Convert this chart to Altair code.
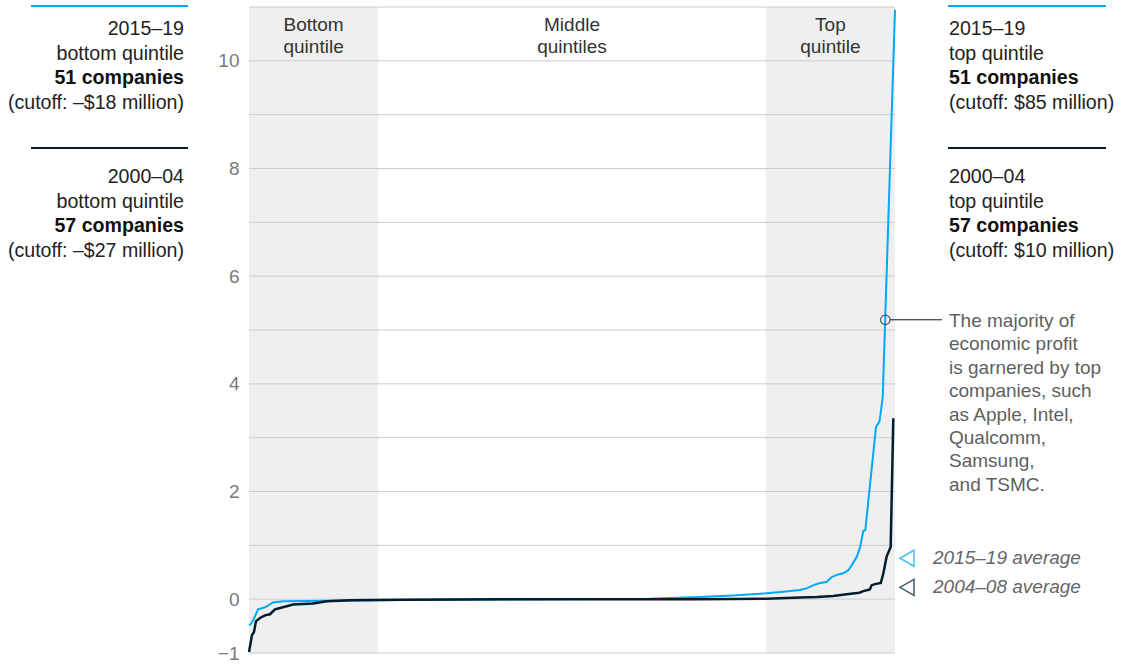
import altair as alt
import pandas as pd

# Economic profit per company, ranked, in $ billions (x = percentile rank of company)
blue_pct = [0, 0.3, 0.8, 1.4, 2.5, 3.7, 5.3, 12.5, 20, 31, 46.6, 62, 69.8, 74.9, 80.1,
            82.7, 85.3, 86.3, 87.4, 88.4, 89.4, 90.2, 91.2, 92.0, 92.8, 93.3, 94.1, 94.6,
            95.1, 95.4, 97.06, 97.6, 98.1, 100]
blue_val = [-0.48, -0.46, -0.35, -0.19, -0.15, -0.06, -0.04, -0.03, -0.02, -0.01, 0.0, 0.01,
            0.04, 0.07, 0.11, 0.14, 0.17, 0.20, 0.26, 0.30, 0.32, 0.41, 0.46, 0.48, 0.54,
            0.63, 0.79, 0.97, 1.27, 1.28, 3.2, 3.3, 3.75, 10.95]

dark_pct = [0, 0.46, 0.77, 1.08, 1.7, 2.48, 3.25, 4.02, 5.26, 6.81, 9.91, 12.07, 15.63, 23.37,
            38.85, 69.8, 80.1, 85.3, 87.9, 90.45, 92.5, 94.5, 95.1, 96.1, 96.4, 96.9, 97.8,
            98.2, 98.7, 99.33, 99.74]
dark_val = [-0.98, -0.67, -0.61, -0.41, -0.35, -0.30, -0.28, -0.19, -0.15, -0.10, -0.08, -0.04,
            -0.02, -0.01, 0.0, 0.0, 0.01, 0.03, 0.04, 0.06, 0.09, 0.12, 0.15, 0.18, 0.26,
            0.28, 0.30, 0.48, 0.79, 0.97, 3.36]

# Quintile bands
band_start = [0, 80]
band_end = [20, 100]

# Period averages marked beside the plot
avg_values = [0.76, 0.22]
avg_labels = ["2015–19 average", "2004–08 average"]

callout_pct = 98.5
callout_value = 5.19

grid_values = list(range(-1, 12))
tick_labels = [10, 8, 6, 4, 2, 0, -1]

left_top = ["2015–19", "bottom quintile", "51 companies", "(cutoff: –$18 million)"]
left_bottom = ["2000–04", "bottom quintile", "57 companies", "(cutoff: –$27 million)"]
right_top = ["2015–19", "top quintile", "51 companies", "(cutoff: $85 million)"]
right_bottom = ["2000–04", "top quintile", "57 companies", "(cutoff: $10 million)"]
callout_lines = ["The majority of", "economic profit", "is garnered by top", "companies, such",
                 "as Apple, Intel,", "Qualcomm,", "Samsung,", "and TSMC."]
band_titles = [("Bottom", "quintile"), ("Middle", "quintiles"), ("Top", "quintile")]

BLUE = "#00A9F4"
DARK = "#051C2C"
FONT = "Liberation Sans"
W, H = 646, 646

xscale = alt.Scale(domain=[0, 100], nice=False, zero=False)
yscale = alt.Scale(domain=[-1, 11], nice=False, zero=False)
label_test = " || ".join(f"datum.value == {v}" for v in tick_labels)
yaxis = alt.Axis(values=grid_values, labelExpr=f"({label_test}) ? datum.label : ''",
                 grid=False, ticks=False, domain=False, title=None, labelFont=FONT,
                 labelFontSize=19, labelColor="#7a7a7a", labelPadding=10)

bands = alt.Chart(pd.DataFrame({"start": band_start, "end": band_end})).mark_rect(
    color="#efefef").encode(
    x=alt.X("start:Q", scale=xscale, axis=None), x2="end",
    y=alt.value(0), y2=alt.value(H))

grid = alt.Chart(pd.DataFrame({"v": grid_values})).mark_rule(
    color="#cccccc", strokeWidth=1).encode(y=alt.Y("v:Q", scale=yscale, axis=yaxis))


def series(pcts, vals, color, width):
    df = pd.DataFrame({"pct": pcts, "value": vals})
    return alt.Chart(df).mark_line(color=color, strokeWidth=width, interpolate="linear").encode(
        x=alt.X("pct:Q", scale=xscale, axis=None),
        y=alt.Y("value:Q", scale=yscale, axis=yaxis))


def text(s, x, y, align="left", weight="normal", color="#222222", size=19, style="normal"):
    return alt.Chart(alt.Data(values=[{}])).mark_text(
        text=s, align=align, baseline="alphabetic", font=FONT, fontSize=size,
        fontWeight=weight, fontStyle=style, color=color).encode(
        x=alt.value(x), y=alt.value(y))


def hline(x1, x2, y, color):
    return alt.Chart(alt.Data(values=[{}])).mark_rule(color=color, strokeWidth=2).encode(
        x=alt.value(x1), x2=alt.value(x2), y=alt.value(y))


layers = [bands, grid,
          series(blue_pct, blue_val, BLUE, 2),
          series(dark_pct, dark_val, DARK, 2.5)]

# Band titles across the top of the plot
centers = [(band_start[0] + band_end[0]) / 2 * W / 100,
           (band_end[0] + band_start[1]) / 2 * W / 100,
           (band_start[1] + band_end[1]) / 2 * W / 100]
for (a, b), cx in zip(band_titles, centers):
    layers.append(text(a, cx, 24, align="center", color="#333333"))
    layers.append(text(b, cx, 46, align="center", color="#333333"))

# Side blocks describing the quintiles
LINE_STEP = 24.5
for block, top, rule_y, align, color in [
        (left_top, 28, -1, "right", BLUE), (left_bottom, 176, 141, "right", DARK),
        (right_top, 28, -1, "left", BLUE), (right_bottom, 176, 141, "left", DARK)]:
    if align == "right":
        layers.append(hline(-218, -61, rule_y, color))
        x = -65
    else:
        layers.append(hline(699, 857, rule_y, color))
        x = 700
    for i, s in enumerate(block):
        layers.append(text(s, x, top + i * LINE_STEP, align=align, size=19.6,
                           weight="bold" if i == 2 else "normal",
                           color="#111111" if i == 2 else "#222222"))

# Callout on the top companies
callout_pt = alt.Chart(alt.Data(values=[{}])).mark_point(
    shape="circle", filled=False, color=DARK, size=90, strokeWidth=1.2).encode(
    x=alt.X(datum=callout_pct, scale=xscale, axis=None),
    y=alt.Y(datum=callout_value, scale=yscale, axis=yaxis))
leader = alt.Chart(alt.Data(values=[{}])).mark_rule(color=DARK, strokeWidth=1).encode(
    x=alt.value(641), x2=alt.value(693),
    y=alt.Y(datum=callout_value, scale=yscale, axis=yaxis))
layers += [callout_pt, leader]
for i, s in enumerate(callout_lines):
    layers.append(text(s, 700, 320 + i * 23.4, color="#5f5f5f"))

# Average markers
for v, lab, col in zip(avg_values, avg_labels, [BLUE, DARK]):
    layers.append(alt.Chart(alt.Data(values=[{}])).mark_point(
        shape="triangle-left", filled=False, color=col, size=260, strokeWidth=1.6).encode(
        x=alt.value(658), y=alt.Y(datum=v, scale=yscale, axis=yaxis)))
    layers.append(alt.Chart(alt.Data(values=[{}])).mark_text(
        text=lab, align="left", baseline="middle", font=FONT, fontSize=19,
        fontStyle="italic", color="#666666").encode(
        x=alt.value(684), y=alt.Y(datum=v, scale=yscale, axis=yaxis)))

chart = alt.layer(*layers).properties(
    width=W, height=H,
    autosize=alt.AutoSizeParams(type="none"),
    padding={"left": 249, "top": 7, "right": 227, "bottom": 12},
).configure_view(stroke=None)

chart.save("out.html", embed_options={"renderer": "svg", "actions": False})
